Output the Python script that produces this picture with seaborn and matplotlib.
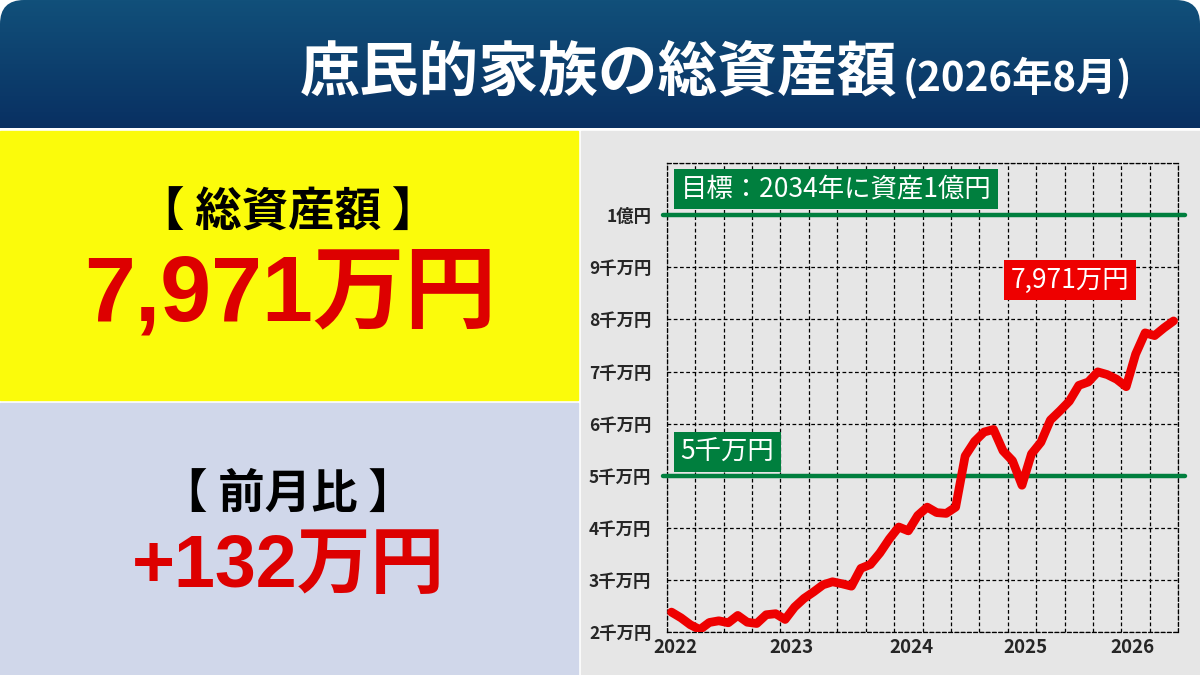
import numpy as np
import pandas as pd
import seaborn as sns
import matplotlib.pyplot as plt
from matplotlib.patches import Rectangle, FancyBboxPatch

# monthly total assets, unit: 万円
month_idx = list(range(54))
assets = [2387, 2278, 2143, 2052, 2188, 2220, 2182, 2323, 2193, 2168,
          2336, 2356, 2246, 2484, 2650, 2774, 2910, 2968, 2930, 2884,
          3226, 3300, 3520, 3790, 4019, 3945, 4240, 4400, 4295, 4280,
          4400, 5380, 5660, 5840, 5890, 5480, 5290, 4820, 5420, 5645,
          6070, 6245, 6432, 6735, 6800, 6994, 6942, 6852, 6710, 7335,
          7742, 7690, 7839, 7971]

y_ticks = [2000, 3000, 4000, 5000, 6000, 7000, 8000, 9000, 10000]
y_labels = ['2千万円', '3千万円', '4千万円', '5千万円', '6千万円',
            '7千万円', '8千万円', '9千万円', '1億円']
year_labels = ['2022', '2023', '2024', '2025', '2026']
year_pos = [0.9, 13.2, 25.8, 37.9, 49.2]

goal_value = 10000
half_value = 5000
total_now = 7971
change_now = 132

sns.set_style('white')
plt.rcParams['font.family'] = ['Noto Sans CJK JP', 'DejaVu Sans']
NUM_FONT = ['Liberation Sans', 'Noto Sans CJK JP']

GREEN = '#007f3e'
RED = '#ee0000'
TXT_RED = '#dd0000'

df = pd.DataFrame({'x': [m + 0.5 for m in month_idx], 'total': assets})

fig = plt.figure(figsize=(12, 6.75), dpi=100)
fig.patch.set_facecolor('white')

# background layer in pixel coords
bg = fig.add_axes([0, 0, 1, 1])
bg.set_xlim(0, 1200)
bg.set_ylim(675, 0)
bg.axis('off')

grad = np.linspace(0, 1, 128).reshape(-1, 1)
top_c = np.array([17, 80, 122]) / 255
bot_c = np.array([9, 48, 98]) / 255
img = top_c + (bot_c - top_c) * grad[..., None]
img = np.repeat(img, 2, axis=1)
clip = FancyBboxPatch((0, 0), 1200, 170, boxstyle='round,pad=0,rounding_size=24',
                      transform=bg.transData, facecolor='none', edgecolor='none')
bg.add_patch(clip)
im = bg.imshow(img, extent=[0, 1200, 128, 0], aspect='auto', zorder=1)
im.set_clip_path(clip)

bg.add_patch(Rectangle((0, 131), 578, 269, color='#fbfb0b', zorder=1))
bg.add_patch(Rectangle((0, 403), 578, 272, color='#d0d7ea', zorder=1))
bg.add_patch(Rectangle((581, 131), 619, 544, color='#e6e6e6', zorder=1))

bg.text(300, 90, '庶民的家族の総資産額', color='white', fontsize=43,
        fontweight='bold', ha='left', va='baseline', zorder=3)
bg.text(903, 91, '(2026年8月)', color='white', fontsize=29,
        fontweight='bold', ha='left', va='baseline', zorder=3)

bg.text(288, 213, '【 総資産額 】', fontsize=33.5, fontweight='bold',
        color='black', ha='center', va='center', zorder=3)
bg.text(290, 296, f'{total_now:,}万円', fontsize=66, fontweight='bold',
        family=NUM_FONT, color=TXT_RED, ha='center', va='center', zorder=3)
bg.text(288, 494, '【 前月比 】', fontsize=33.5, fontweight='bold',
        color='black', ha='center', va='center', zorder=3)
bg.text(288, 567, f'+{change_now}万円', fontsize=53, fontweight='bold',
        family=NUM_FONT, color=TXT_RED, ha='center', va='center', zorder=3)

# chart
ax = fig.add_axes([0.5556, 0.0633, 0.4263, 0.6952])
ax.set_facecolor('none')
sns.lineplot(data=df, x='x', y='total', color=RED, linewidth=6.3,
             solid_capstyle='round', solid_joinstyle='round', ax=ax, zorder=4)

ax.set_xlim(0, 54)
ax.set_ylim(2000, 11000)
ax.set_xticks(np.arange(0, 55, 3))
ax.set_xticklabels([])
ax.set_xticks(year_pos, minor=True)
ax.set_xticklabels(year_labels, minor=True, fontsize=13.5, fontweight='bold')
ax.set_yticks(y_ticks + [11000])
ax.set_yticklabels(y_labels + [''], fontsize=12.5, fontweight='bold')
ax.tick_params(axis='both', which='both', length=0)
ax.tick_params(axis='x', which='minor', pad=4)
ax.tick_params(axis='y', pad=11)
ax.set_xlabel('')
ax.set_ylabel('')
ax.grid(True, which='major', color='black', linestyle=(0, (3, 2)), linewidth=0.9)
for s in ax.spines.values():
    s.set_visible(True)
    s.set_color('black')
    s.set_linestyle((0, (3, 2)))
    s.set_linewidth(0.9)

ax.axhline(goal_value, xmin=-0.008, xmax=1.013, color=GREEN, linewidth=3.2,
           clip_on=False, zorder=3)
ax.axhline(half_value, xmin=-0.008, xmax=1.013, color=GREEN, linewidth=3.2,
           clip_on=False, zorder=3)

ax.text(0.027, 0.945, '目標：2034年に資産1億円', transform=ax.transAxes,
        fontsize=19, color='white', ha='left', va='center', zorder=5,
        bbox=dict(boxstyle='square,pad=0.25', facecolor=GREEN, edgecolor='none'))
ax.text(0.027, 0.385, '5千万円', transform=ax.transAxes,
        fontsize=19, color='white', ha='left', va='center', zorder=5,
        bbox=dict(boxstyle='square,pad=0.25', facecolor=GREEN, edgecolor='none'))
ax.text(0.788, 0.75, f'{total_now:,}万円', transform=ax.transAxes,
        fontsize=19, color='white', ha='center', va='center', zorder=5,
        bbox=dict(boxstyle='square,pad=0.25', facecolor=RED, edgecolor='none'))

fig.savefig('out.png', dpi=100)
